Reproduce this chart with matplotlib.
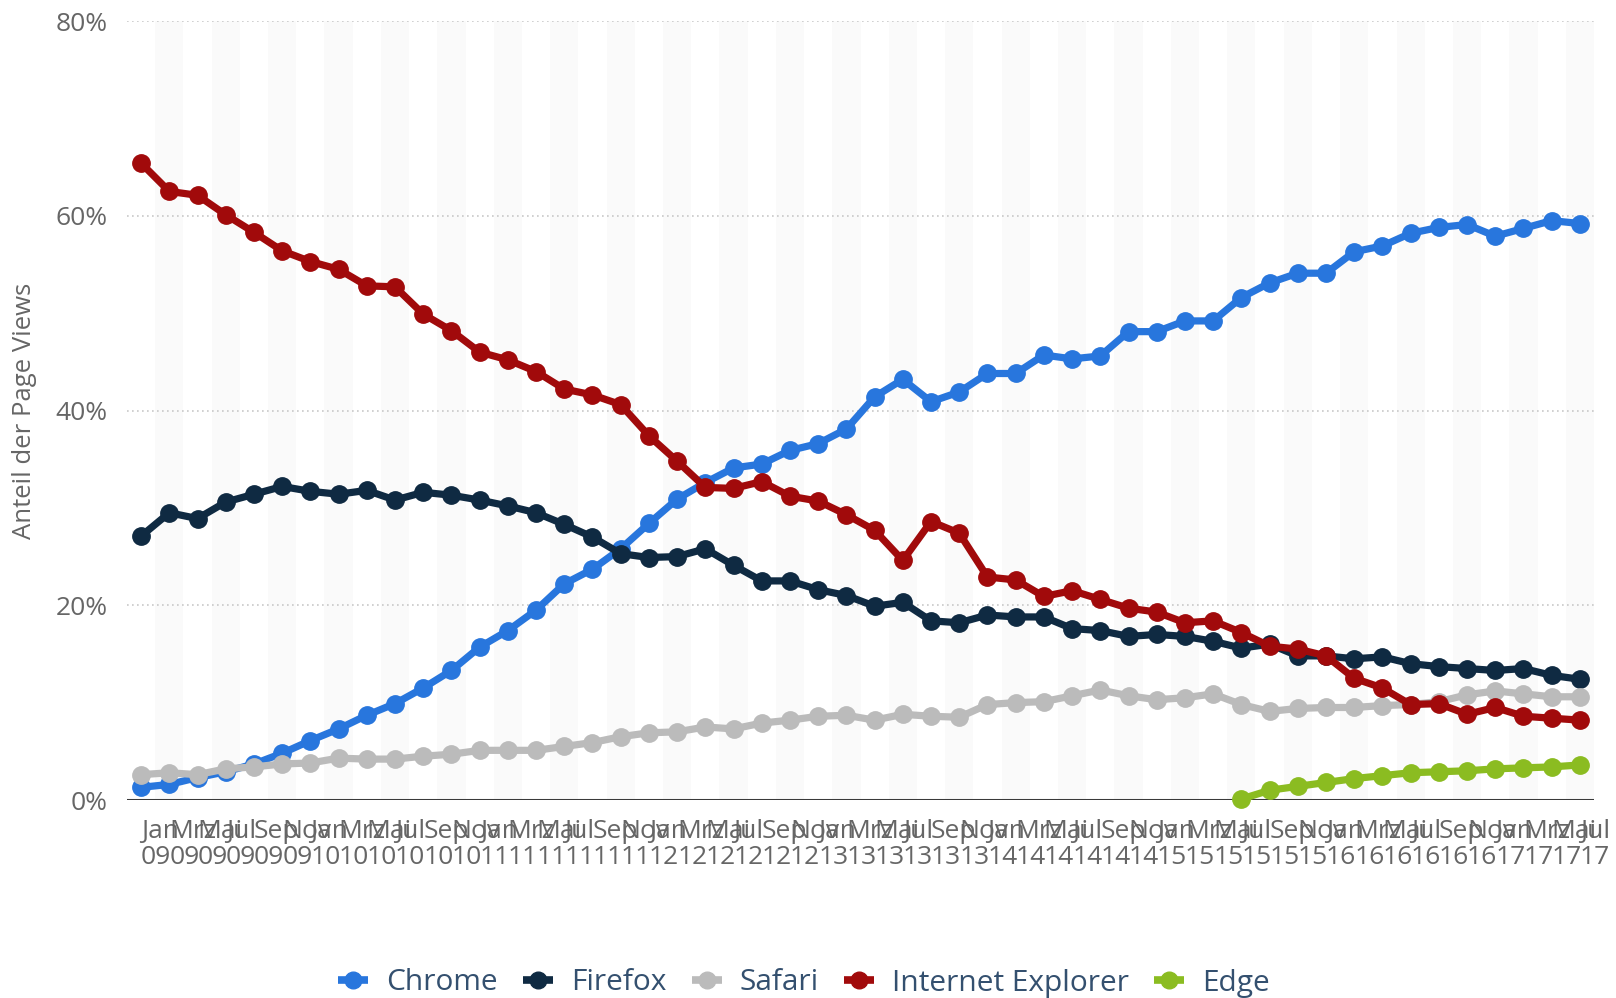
import matplotlib
matplotlib.use("Agg")
import matplotlib.pyplot as plt

plt.rcParams['font.family'] = ['Open Sans', 'DejaVu Sans']

months = ["Jan", "Mrz", "Mai", "Jul", "Sep", "Nov"]
years = ["09", "10", "11", "12", "13", "14", "15", "16", "17"]
tick_labels = [f"{m}\n{y}" for y in years for m in months][:52]

chrome = [1.3, 1.6, 2.3, 2.9, 3.7, 4.8, 6.1, 7.3, 8.7, 9.9, 11.5, 13.3, 15.7, 17.4, 19.5,
          22.2, 23.7, 25.8, 28.4, 30.9, 32.6, 34.1, 34.5, 35.9, 36.6, 38.1, 41.4, 43.2,
          40.9, 41.9, 43.8, 43.8, 45.7, 45.3, 45.6, 48.1, 48.1, 49.2, 49.2,
          51.6, 53.1, 54.1, 54.1, 56.3, 56.9, 58.2, 58.8, 59.1, 57.9, 58.7, 59.5, 59.2]
firefox = [27.1, 29.5, 28.9, 30.6, 31.4, 32.2, 31.7, 31.4, 31.8, 30.8, 31.6, 31.3, 30.8, 30.2, 29.5,
           28.3, 27.0, 25.3, 24.9, 25.0, 25.8, 24.1, 22.5, 22.5, 21.6, 21.0, 19.9, 20.3,
           18.4, 18.2, 19.0, 18.8, 18.8, 17.6, 17.4, 16.8, 17.0, 16.8, 16.3,
           15.6, 16.0, 14.8, 14.8, 14.5, 14.7, 14.0, 13.7, 13.5, 13.3, 13.5, 12.8, 12.4]
safari = [2.6, 2.8, 2.6, 3.2, 3.4, 3.7, 3.8, 4.3, 4.2, 4.2, 4.5, 4.7, 5.1, 5.1, 5.1,
          5.5, 5.9, 6.5, 6.9, 7.0, 7.5, 7.3, 7.9, 8.2, 8.6, 8.7, 8.2, 8.8,
          8.6, 8.5, 9.8, 10.0, 10.1, 10.7, 11.3, 10.7, 10.3, 10.5, 10.9,
          9.8, 9.1, 9.4, 9.5, 9.5, 9.7, 9.8, 10.1, 10.8, 11.2, 10.9, 10.6, 10.6]
ie = [65.4, 62.5, 62.1, 60.1, 58.3, 56.4, 55.3, 54.5, 52.8, 52.7, 49.9, 48.2, 46.0, 45.2, 44.0,
      42.2, 41.6, 40.6, 37.4, 34.8, 32.1, 32.0, 32.7, 31.2, 30.7, 29.3, 27.7, 24.6,
      28.6, 27.4, 22.9, 22.6, 20.9, 21.5, 20.6, 19.7, 19.3, 18.2, 18.4,
      17.2, 15.8, 15.5, 14.8, 12.5, 11.5, 9.8, 9.9, 8.8, 9.5, 8.6, 8.4, 8.2]
edge_start = 39
edge = [0.1, 1.0, 1.4, 1.8, 2.2, 2.5, 2.8, 2.9, 3.0, 3.2, 3.3, 3.4, 3.6]

series_names = ["Chrome", "Firefox", "Safari", "Internet Explorer", "Edge"]
colors = ["#2876dd", "#0f2a42", "#bbbbbb", "#a10a0b", "#8bbc21"]

fig = plt.figure(figsize=(16.16, 9.98), dpi=100)
ax = fig.add_axes([127/1616, 1-800/998, (1594-127)/1616, (800-21)/998])
ax.set_xlim(-0.5, 51.5)
ax.set_ylim(0, 80)

for i in range(1, 52, 2):
    ax.axvspan(i-0.5, i+0.5, color='#fafafa', lw=0, zorder=0)
for y in [20, 40, 60, 80]:
    ax.axhline(y, color='#c8c8c8', lw=1.2, ls=(0, (1, 2)), zorder=1)
ax.axhline(0, color='#3a3a3a', lw=2.2, zorder=2)

x_all = list(range(52))
data = [(x_all, chrome), (x_all, firefox), (x_all, safari), (x_all, ie),
        (list(range(edge_start, edge_start+len(edge))), edge)]
handles = []
for (xs, ys), name, c in zip(data, series_names, colors):
    h, = ax.plot(xs, ys, color=c, lw=5.2, marker='o', ms=12.5, mec=c, mfc=c,
                 label=name, zorder=3, clip_on=False, solid_joinstyle='round')
    handles.append(h)

for s in ax.spines.values():
    s.set_visible(False)

ax.set_yticks([0, 20, 40, 60, 80])
ax.set_yticklabels([f"{v}%" for v in [0, 20, 40, 60, 80]])
ax.set_xticks(x_all)
ax.set_xticklabels(tick_labels, ha='left', linespacing=1.05)
ax.tick_params(axis='y', length=0, pad=14, labelsize=19, labelcolor='#666666')
ax.tick_params(axis='x', length=0, pad=14, labelsize=19, labelcolor='#666666')

fig.text(25/1616, 1-411/998, "Anteil der Page Views", rotation=90, ha='center',
         va='center', fontsize=18.5, color='#666666')

leg = fig.legend(handles=handles, loc='center', bbox_to_anchor=(804/1616, 1-983/998),
                 ncol=5, frameon=False, fontsize=21.5, handlelength=1.0,
                 handletextpad=0.6, columnspacing=0.85, labelcolor='#34506f')
for lh in leg.legend_handles:
    lh.set_markersize(12)
    lh.set_linewidth(5.5)
    lh.set_solid_capstyle('butt')

fig.savefig("out.png", dpi=100)
